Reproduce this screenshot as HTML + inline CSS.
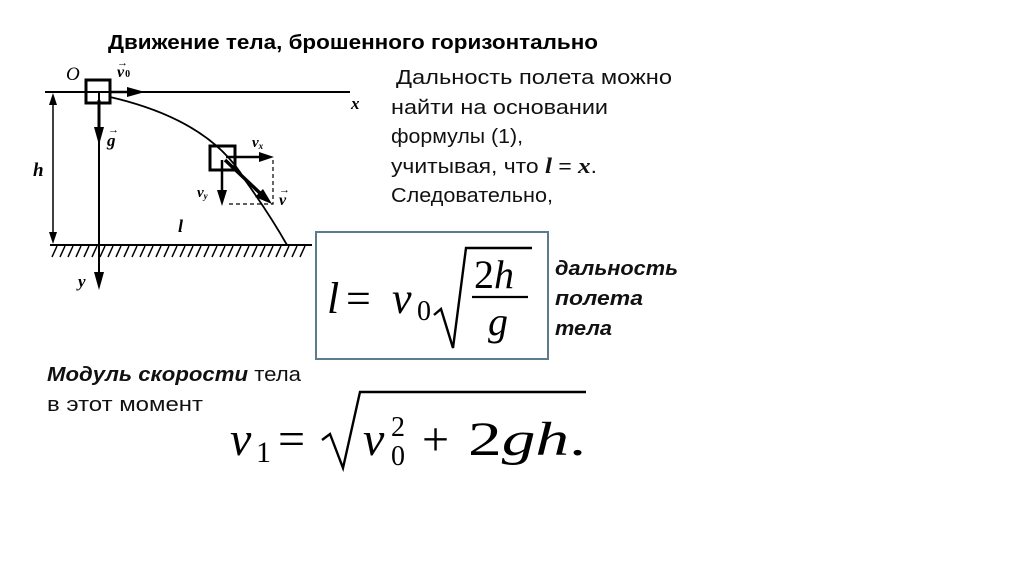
<!DOCTYPE html>
<html><head><meta charset="utf-8"><style>
html,body{margin:0;padding:0;background:#fff;}
svg{display:block;}
</style></head><body>
<svg width="1024" height="574" viewBox="0 0 1024 574" xmlns="http://www.w3.org/2000/svg" font-family="Liberation Sans, DejaVu Sans, sans-serif">
<text x="108" y="49" font-size="20" font-weight="bold" textLength="490" lengthAdjust="spacingAndGlyphs">Движение тела, брошенного горизонтально</text>
<g stroke="#000" fill="none">
<line x1="45" y1="92" x2="350" y2="92" stroke-width="2"/>
<line x1="110" y1="92" x2="130" y2="92" stroke-width="2.5"/>
<rect x="86" y="80" width="24" height="23" stroke-width="3"/>
<line x1="99" y1="92" x2="99" y2="278" stroke-width="2"/>
<line x1="99" y1="100" x2="99" y2="130" stroke-width="3"/>
<line x1="53" y1="102" x2="53" y2="236" stroke-width="1.5"/>
<line x1="50" y1="245" x2="312" y2="245" stroke-width="2"/>
<path d="M52,257 l5,-11 M60,257 l5,-11 M68,257 l5,-11 M76,257 l5,-11 M84,257 l5,-11 M92,257 l5,-11 M100,257 l5,-11 M108,257 l5,-11 M116,257 l5,-11 M124,257 l5,-11 M132,257 l5,-11 M140,257 l5,-11 M148,257 l5,-11 M156,257 l5,-11 M164,257 l5,-11 M172,257 l5,-11 M180,257 l5,-11 M188,257 l5,-11 M196,257 l5,-11 M204,257 l5,-11 M212,257 l5,-11 M220,257 l5,-11 M228,257 l5,-11 M236,257 l5,-11 M244,257 l5,-11 M252,257 l5,-11 M260,257 l5,-11 M268,257 l5,-11 M276,257 l5,-11 M284,257 l5,-11 M292,257 l5,-11 M300,257 l5,-11" stroke-width="1.5"/>
<path d="M110,97 Q210,120 245,180 Q270,215 287,245" stroke-width="1.8"/>
<rect x="210" y="146" width="25" height="24" stroke-width="3"/>
<line x1="226" y1="157" x2="262" y2="157" stroke-width="2.5"/>
<path d="M273,160 V204 H226" stroke-dasharray="4,3" stroke-width="1.2"/>
<line x1="222" y1="160" x2="222" y2="192" stroke-width="2.5"/>
<line x1="225" y1="160" x2="262" y2="195" stroke-width="3.5"/>
</g>
<g fill="#000">
<polygon points="145,92 127,87 127,97"/>
<polygon points="99,145 94,127 104,127"/>
<polygon points="99,290 94,272 104,272"/>
<polygon points="53,93 49,105 57,105"/>
<polygon points="53,244 49,232 57,232"/>
<polygon points="274,157 259,152 259,162"/>
<polygon points="222,206 217,190 227,190"/>
<polygon points="272,204 255,197 263,189"/>
</g>
<g font-family="Liberation Serif, DejaVu Serif, serif" font-style="italic" font-weight="bold">
<text x="351" y="109" font-size="17">x</text>
<text x="66" y="80" font-size="19" font-weight="normal">O</text>
<text x="117" y="77" font-size="16">v<tspan font-size="10" font-style="normal" dx="1">0</tspan></text>
<text x="117" y="66" font-size="11" font-style="normal">→</text>
<text x="107" y="146" font-size="17">g</text>
<text x="108" y="133" font-size="11" font-style="normal">→</text>
<text x="78" y="287" font-size="17">y</text>
<text x="33" y="176" font-size="19">h</text>
<text x="178" y="232" font-size="18">l</text>
<text x="252" y="147" font-size="15">v<tspan font-size="9" dy="2">x</tspan></text>
<text x="197" y="197" font-size="15">v<tspan font-size="9" dy="2">y</tspan></text>
<text x="279" y="205" font-size="16">v</text>
<text x="279" y="193" font-size="11" font-style="normal">→</text>
</g>
<g font-size="20" fill="#111">
<text x="396" y="84" textLength="276" lengthAdjust="spacingAndGlyphs">Дальность полета можно</text>
<text x="391" y="114" textLength="217" lengthAdjust="spacingAndGlyphs">найти на основании</text>
<text x="391" y="143" textLength="132" lengthAdjust="spacingAndGlyphs">формулы (1),</text>
<text x="391" y="173" textLength="206" lengthAdjust="spacingAndGlyphs">учитывая, что <tspan font-family="Liberation Serif, serif" font-style="italic" font-weight="bold" font-size="22">l</tspan> = <tspan font-family="Liberation Serif, serif" font-style="italic" font-weight="bold" font-size="22">x</tspan>.</text>
<text x="391" y="202" textLength="162" lengthAdjust="spacingAndGlyphs">Следовательно,</text>
</g>
<rect x="316" y="232" width="232" height="127" fill="none" stroke="#5c7b8c" stroke-width="2"/>
<g font-family="Liberation Serif, DejaVu Serif, serif">
<text x="327" y="313" font-size="44" font-style="italic">l</text>
<text x="346" y="313" font-size="44">=</text>
<text x="392" y="313" font-size="44" font-style="italic">v</text>
<text x="417" y="320" font-size="28">0</text>
<path d="M434,315 L441,309 L453,348 L466,248 L532,248" fill="none" stroke="#000" stroke-width="2.4"/>
<text x="474" y="288" font-size="40">2<tspan font-style="italic">h</tspan></text>
<line x1="472" y1="297" x2="528" y2="297" stroke="#000" stroke-width="2.2"/>
<text x="488" y="335" font-size="40" font-style="italic">g</text>
<text x="230" y="455" font-size="48" font-style="italic">v</text>
<text x="256" y="462" font-size="30">1</text>
<text x="278" y="455" font-size="48">=</text>
<path d="M322,440 L330,434 L343,468 L360,392 L586,392" fill="none" stroke="#000" stroke-width="2.4"/>
<text x="363" y="455" font-size="48" font-style="italic">v</text>
<text x="391" y="436" font-size="28">2</text>
<text x="391" y="465" font-size="28">0</text>
<text x="422" y="455" font-size="48">+</text>
<text x="468" y="455" font-size="48" textLength="118" lengthAdjust="spacingAndGlyphs">2<tspan font-style="italic">gh</tspan>.</text>
</g>
<g font-size="20" font-weight="bold" font-style="italic" fill="#111">
<text x="555" y="275" textLength="123" lengthAdjust="spacingAndGlyphs">дальность</text>
<text x="555" y="305" textLength="88" lengthAdjust="spacingAndGlyphs">полета</text>
<text x="555" y="335" textLength="57" lengthAdjust="spacingAndGlyphs">тела</text>
</g>
<text x="47" y="381" font-size="20" fill="#111" textLength="254" lengthAdjust="spacingAndGlyphs"><tspan font-weight="bold" font-style="italic">Модуль скорости</tspan> тела</text>
<text x="47" y="411" font-size="20" fill="#111" textLength="156" lengthAdjust="spacingAndGlyphs">в этот момент</text>
</svg>
</body></html>
